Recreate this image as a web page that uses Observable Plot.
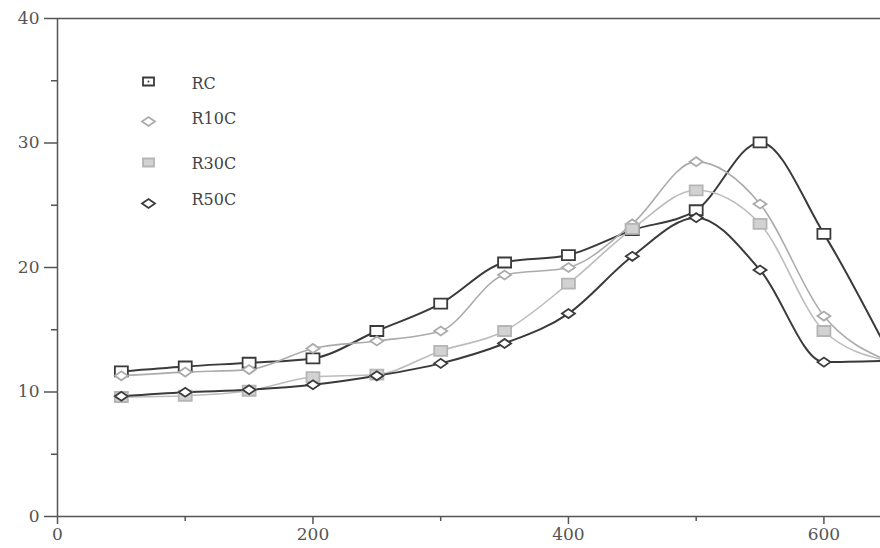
<!DOCTYPE html>
<html>
<head>
<meta charset="utf-8">
<script src="https://cdn.jsdelivr.net/npm/d3@7"></script>
<script src="https://cdn.jsdelivr.net/npm/@observablehq/plot@0.6"></script>
<style>
  html, body { margin: 0; padding: 0; background: #fff; }
  #chart svg { display: block; }
</style>
</head>
<body>
<div id="chart"></div>
<script>
const xValues = [50, 100, 150, 200, 250, 300, 350, 400, 450, 500, 550, 600, 650];
const rc   = [11.65, 12.05, 12.35, 12.7, 14.9, 17.1, 20.4, 21.0, 23.0, 24.6, 30.05, 22.7, 13.3];
const r10c = [11.3, 11.6, 11.8, 13.5, 14.1, 14.9, 19.4, 20.0, 23.5, 28.5, 25.1, 16.1, 12.5];
const r30c = [9.6, 9.7, 10.1, 11.2, 11.4, 13.3, 14.9, 18.7, 23.1, 26.2, 23.5, 14.9, 12.5];
const r50c = [9.66, 9.98, 10.18, 10.58, 11.3, 12.3, 13.9, 16.3, 20.9, 24.0, 19.8, 12.4, 12.5];
const seriesNames = ["RC", "R10C", "R30C", "R50C"];
const xTicks = [0, 200, 400, 600];
const xMinorTicks = [100, 300, 500];
const yTicks = [0, 10, 20, 30, 40];
const yMinorTicks = [5, 15, 25, 35];

const dark = "#3a3a3a";
const light = "#ababab";

const wideSquare = {draw(ctx) { const w = 6.5, h = 5; ctx.moveTo(-w, -h); ctx.lineTo(w, -h); ctx.lineTo(w, h); ctx.lineTo(-w, h); ctx.closePath(); }};
const smallSquare = {draw(ctx) { const w = 5.5, h = 4; ctx.moveTo(-w, -h); ctx.lineTo(w, -h); ctx.lineTo(w, h); ctx.lineTo(-w, h); ctx.closePath(); }};
const wideDiamond = {draw(ctx) { const w = 6.5, h = 4.5; ctx.moveTo(-w, 0); ctx.lineTo(0, -h); ctx.lineTo(w, 0); ctx.lineTo(0, h); ctx.closePath(); }};

const valuesBySeries = [rc, r10c, r30c, r50c];
const styles = [
  {stroke: dark, width: 2, symbol: wideSquare, legendSymbol: smallSquare, fill: "white", mStroke: dark},
  {stroke: light, width: 1.6, symbol: wideDiamond, legendSymbol: wideDiamond, fill: "white", mStroke: light},
  {stroke: "#bcbcbc", width: 1.6, symbol: wideSquare, legendSymbol: smallSquare, fill: "#d2d2d2", mStroke: "#b5b5b5"},
  {stroke: dark, width: 2, symbol: wideDiamond, legendSymbol: wideDiamond, fill: "white", mStroke: dark}
];

const data = seriesNames.map((name, i) => xValues.map((x, j) => ({x, y: valuesBySeries[i][j], series: name})));

const marks = [];
// frame
marks.push(Plot.ruleY([40], {stroke: "#555", strokeWidth: 1.5}));
marks.push(Plot.ruleY([0], {stroke: "#555", strokeWidth: 1.5}));
marks.push(Plot.ruleX([0], {stroke: "#555", strokeWidth: 1.5}));
// axes
marks.push(Plot.axisY(yTicks, {label: null, tickSize: 13, tickPadding: 5, fontSize: 17, stroke: "#555", strokeWidth: 1.5, fill: "#555"}));
marks.push(Plot.axisY(yMinorTicks, {label: null, tickSize: 6, text: null, stroke: "#555", strokeWidth: 1.5}));
marks.push(Plot.axisX(xTicks, {label: null, tickSize: 8, tickPadding: 3, fontSize: 17, stroke: "#555", strokeWidth: 1.5, fill: "#555"}));
marks.push(Plot.axisX(xMinorTicks, {label: null, tickSize: 5, text: null, stroke: "#555", strokeWidth: 1.5}));

// lines & markers
data.forEach((rows, i) => {
  const s = styles[i];
  marks.push(Plot.line(rows, {x: "x", y: "y", stroke: s.stroke, strokeWidth: s.width, curve: "monotone-x", clip: true}));
});
data.forEach((rows, i) => {
  const s = styles[i];
  marks.push(Plot.dot(rows, {x: "x", y: "y", symbol: s.symbol, r: 5, fill: s.fill, stroke: s.mStroke, strokeWidth: 1.8, clip: true}));
});

// legend
const legendDotY = [63, 103, 144, 185];
const legendTextY = [65, 100, 145, 181];
seriesNames.forEach((name, i) => {
  const s = styles[i];
  marks.push(Plot.dot([name], {frameAnchor: "top-left", dx: 91, dy: legendDotY[i], symbol: s.legendSymbol, r: 5, fill: s.fill, stroke: s.mStroke, strokeWidth: 1.8}));
  marks.push(Plot.text([name], {frameAnchor: "top-left", lineAnchor: "middle", text: d => d, dx: 134, dy: legendTextY[i], textAnchor: "start", fontSize: 16, fill: "#444"}));
});
marks.push(Plot.dot([seriesNames[0]], {frameAnchor: "top-left", dx: 91, dy: legendDotY[0], r: 1, fill: dark}));

const chart = Plot.plot({
  width: 880,
  height: 548,
  marginLeft: 57,
  marginRight: 0,
  marginTop: 18,
  marginBottom: 32,
  style: {fontFamily: "'DejaVu Serif', 'Liberation Serif', serif", background: "white", color: "#444"},
  x: {domain: [0, 644.3]},
  y: {domain: [0, 40]},
  marks
});
document.getElementById("chart").appendChild(chart);
</script>
</body>
</html>
